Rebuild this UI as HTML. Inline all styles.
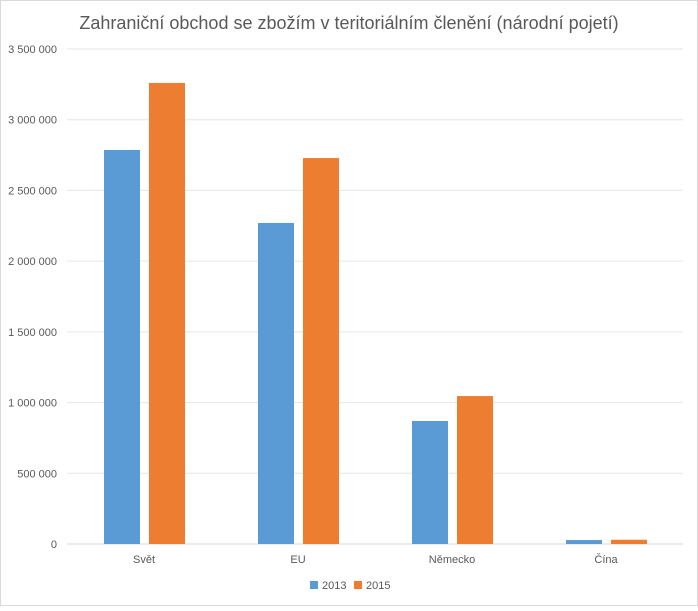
<!DOCTYPE html>
<html><head><meta charset="utf-8"><style>
body{margin:0;background:#fff;font-family:"Liberation Sans",sans-serif}
svg text{font-family:"Liberation Sans",sans-serif}
</style></head><body>
<svg width="698" height="606">
<rect x="0.5" y="0.5" width="697" height="605" fill="#fff" stroke="#d9d9d9"/>
<text x="349" y="29" text-anchor="middle" font-size="18" fill="#595959">Zahraniční obchod se zbožím v teritoriálním členění (národní pojetí)</text>
<g id="grid"></g><g id="bars"></g><g id="xl"></g>
<g>
<rect x="310" y="581" width="8" height="8" fill="#5b9bd5"/>
<text x="322" y="589" font-size="11" fill="#595959">2013</text>
<rect x="354" y="581" width="8" height="8" fill="#ed7d31"/>
<text x="366" y="589" font-size="11" fill="#595959">2015</text>
</g>
</svg>
<script>
const categories=["Svět","EU","Německo","Čína"];
const s2013=[2786000,2270000,870000,28000];
const s2015=[3260000,2729000,1046000,30000];
const ticks=[0,500000,1000000,1500000,2000000,2500000,3000000,3500000];
const tickLabels=["0","500 000","1 000 000","1 500 000","2 000 000","2 500 000","3 000 000","3 500 000"];
const NS="http://www.w3.org/2000/svg";
const x0=67,x1=683,y0=544,y1=49,yMax=3500000;
const y=v=>y0-(v/yMax)*(y0-y1);
const band=(x1-x0)/categories.length;
function mk(t,a,p){const e=document.createElementNS(NS,t);for(const k in a)e.setAttribute(k,a[k]);p.appendChild(e);return e;}
const g=document.getElementById('grid');
ticks.forEach((t,i)=>{
 const l=mk('line',{x1:x0,x2:x1,y1:y(t),y2:y(t),stroke:i==0?'#d9d9d9':'#e6e6e6'},g);
 
 
 const tx=mk('text',{x:57,y:y(t)+4,'text-anchor':'end','font-size':'11',fill:'#595959'},g);
 tx.textContent=tickLabels[i];
 
 
});
const b=document.getElementById('bars'),xl=document.getElementById('xl');
categories.forEach((c,i)=>{
 const cx=x0+band*(i+0.5);
 const r1=mk('rect',{x:cx-40,y:y(s2013[i]),width:36,height:y0-y(s2013[i]),fill:'#5b9bd5'},b);
 
 
 const r2=mk('rect',{x:cx+5,y:y(s2015[i]),width:36,height:y0-y(s2015[i]),fill:'#ed7d31'},b);
 
 
 const t=mk('text',{x:cx,y:563,'text-anchor':'middle','font-size':'11',fill:'#595959'},xl);
 t.textContent=c;
 
 
});
</script>
</body></html>
